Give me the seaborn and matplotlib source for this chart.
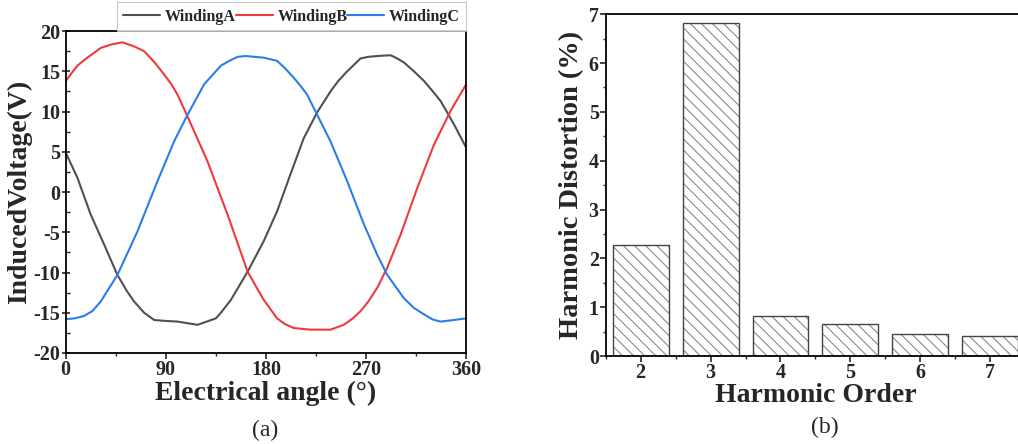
#!/usr/bin/env python3
import matplotlib
matplotlib.use("Agg")
import matplotlib.pyplot as plt
from matplotlib.ticker import MultipleLocator
import seaborn as sns
import pandas as pd

# (a) induced voltage of the three windings
angle_a = [0, 10.5, 22.5, 34.5, 46.5, 55, 61.5, 70.5, 79.5, 88, 100.5, 118.5, 135, 139.5, 148.5, 163.5,
           178, 190, 202, 214, 226, 238, 245, 253, 265, 272, 280, 292, 298, 304, 313, 322, 330, 337, 349, 360]
volt_a = [4.9, 1.8, -2.8, -6.5, -10.3, -12.3, -13.6, -15.0, -15.9, -16.0, -16.1, -16.5, -15.7, -15.0, -13.4, -9.9,
          -6.1, -2.4, 2.2, 6.7, 9.9, 12.5, 13.8, 15.0, 16.6, 16.8, 16.9, 17.0, 16.6, 16.1, 15.0, 13.8, 12.5, 11.3, 8.4, 5.5]

angle_b = [0, 10.5, 19.5, 31.5, 40, 51, 61.5, 70.5, 80, 88.5, 95, 100.5, 109.5, 127.5, 145.5, 163.5,
           178, 190, 197, 205, 220, 238, 250, 258, 265, 272, 280, 289, 301, 316, 331, 346, 360]
volt_b = [13.8, 15.7, 16.7, 17.9, 18.3, 18.6, 18.1, 17.5, 16.1, 14.6, 13.4, 12.1, 9.4, 3.8, -2.8, -9.9,
          -13.4, -15.7, -16.4, -16.9, -17.1, -17.1, -16.5, -15.7, -14.8, -13.6, -11.9, -9.4, -5.3, 0.5, 5.9, 10.1, 13.4]

angle_c = [0, 8, 16.5, 24, 31.5, 46.5, 64.5, 82.5, 97.5, 109.5, 124.5, 139.5, 147, 154.5, 162, 169.5,
           178, 190, 197, 205, 211, 217, 226, 238, 253, 268, 280, 289, 304, 313, 322, 330, 337, 349, 360]
volt_c = [-15.8, -15.7, -15.4, -14.8, -13.6, -10.3, -4.9, 1.35, 6.3, 9.6, 13.4, 15.7, 16.3, 16.8, 16.9, 16.8,
          16.7, 16.3, 15.4, 14.2, 13.2, 12.1, 9.6, 6.3, 1.35, -4.0, -7.8, -10.3, -13.2, -14.4, -15.2, -15.85, -16.1, -15.9, -15.7]

winding_names = ["WindingA", "WindingB", "WindingC"]
winding_colors = ["#505050", "#f0393f", "#2b7de9"]

# (b) harmonic distortion
harmonic_order = ["2", "3", "4", "5", "6", "7"]
harmonic_distortion = [2.27, 6.82, 0.82, 0.66, 0.45, 0.41]


sns.set_theme(style="ticks")
plt.rcParams["font.family"] = ["Liberation Serif", "DejaVu Serif"]
plt.rcParams["font.weight"] = "bold"
plt.rcParams["axes.unicode_minus"] = False
plt.rcParams["axes.linewidth"] = 1.3
plt.rcParams["hatch.color"] = "#8a8a8a"
plt.rcParams["hatch.linewidth"] = 0.8

fig = plt.figure(figsize=(10.18, 4.44), dpi=100)
ax1 = fig.add_axes([0.0645, 0.205, 0.3935, 0.725])
ax2 = fig.add_axes([0.595, 0.198, 0.412, 0.770])

# ---- left panel: voltage waveforms
for name, color, xs, ys in zip(winding_names, winding_colors,
                               [angle_a, angle_b, angle_c], [volt_a, volt_b, volt_c]):
    sns.lineplot(x=xs, y=ys, ax=ax1, color=color, lw=1.5, label=name, sort=False)

ax1.set_xlim(0, 360)
ax1.set_ylim(-20, 20)
ax1.xaxis.set_major_locator(MultipleLocator(90))
ax1.xaxis.set_minor_locator(MultipleLocator(45))
ax1.yaxis.set_major_locator(MultipleLocator(5))
ax1.yaxis.set_minor_locator(MultipleLocator(2.5))
ax1.tick_params(axis="x", which="major", direction="out", length=4, width=1.2, labelsize=14.5, pad=1)
ax1.tick_params(axis="x", which="minor", direction="out", length=2.5, width=1.0)
ax1.tick_params(axis="y", which="major", direction="inout", length=6, width=1.2, labelsize=14.5, pad=1)
ax1.tick_params(axis="y", which="minor", direction="in", length=3, width=1.0)
ax1.set_xlabel("Electrical angle (°)", fontsize=20, fontweight="bold", labelpad=1)
ax1.set_ylabel("InducedVoltage(V)", fontsize=20, fontweight="bold", labelpad=1)

leg = ax1.legend(loc="lower right", bbox_to_anchor=(1.0, 1.0), ncol=3, frameon=True,
                 fancybox=False, borderaxespad=0, handlelength=2.3, handletextpad=0.3,
                 columnspacing=0.0, borderpad=0.4, prop={"size": 11.5, "weight": "bold"})
leg.get_frame().set_edgecolor("#bbbbbb")
leg.get_frame().set_linewidth(0.8)

# ---- right panel: harmonic distortion bars
df = pd.DataFrame({"order": harmonic_order, "distortion": harmonic_distortion})
sns.barplot(data=df, x="order", y="distortion", ax=ax2, color="white",
            edgecolor="#8a8a8a", linewidth=0, saturation=1, width=0.8)
for bar in ax2.patches:
    bar.set_hatch("\\\\\\")
sns.barplot(data=df, x="order", y="distortion", ax=ax2, fill=False,
            edgecolor="#444444", linewidth=1.0, width=0.8)

ax2.set_xlim(-0.5, 5.5)
ax2.set_ylim(0, 7)
ax2.set_xticks(range(len(harmonic_order)), harmonic_order)
ax2.set_xticks([i + 0.5 for i in range(-1, len(harmonic_order))], minor=True)
ax2.yaxis.set_major_locator(MultipleLocator(1))
ax2.yaxis.set_minor_locator(MultipleLocator(0.5))
ax2.tick_params(axis="both", which="major", direction="out", length=4, width=1.2, labelsize=14.5, pad=1)
ax2.tick_params(axis="both", which="minor", direction="out", length=2.5, width=1.0)
ax2.set_xlabel("Harmonic Order", fontsize=20, fontweight="bold", labelpad=0)
ax2.set_ylabel("Harmonic Distortion (%)", fontsize=20.5, fontweight="bold", labelpad=3)

for ax in (ax1, ax2):
    for spine in ax.spines.values():
        spine.set_visible(True)
        spine.set_color("black")
    for lbl in ax.get_xticklabels() + ax.get_yticklabels():
        lbl.set_fontweight("bold")

fig.text(265 / 1018, 1 - 430 / 444, "(a)", ha="center", va="center", fontsize=17, fontweight="normal")
fig.text(825 / 1018, 1 - 427 / 444, "(b)", ha="center", va="center", fontsize=17, fontweight="normal")

fig.savefig("out.png", dpi=100)
